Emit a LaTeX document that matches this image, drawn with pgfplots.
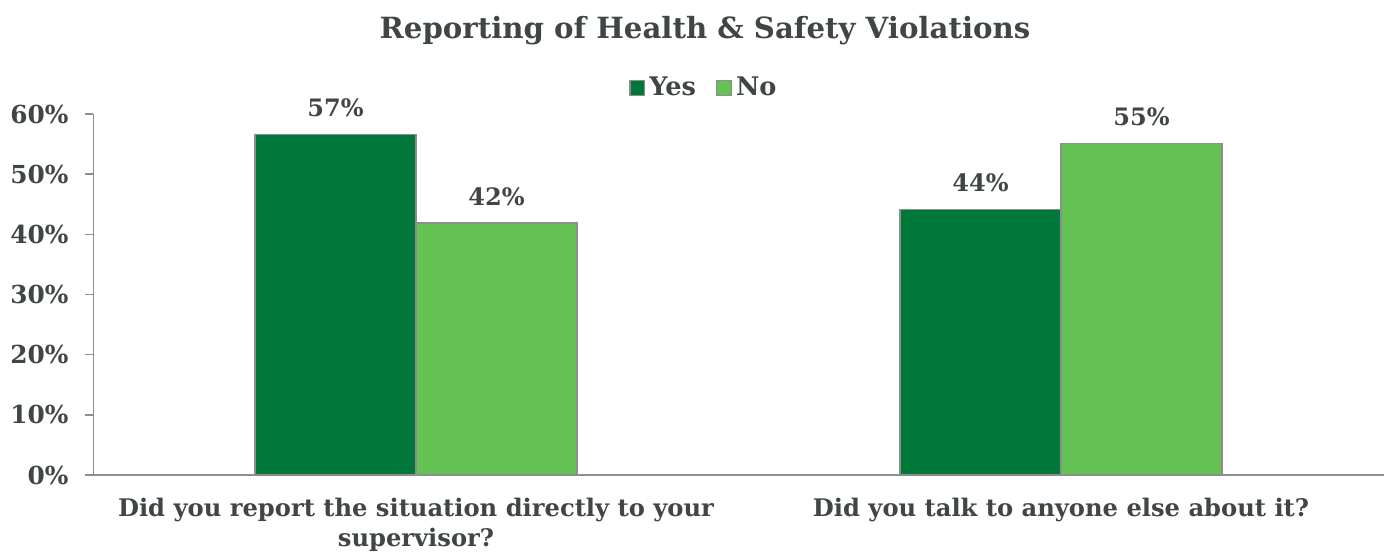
\documentclass[border=0pt]{standalone}
\usepackage{pgfplots}
\pgfplotsset{compat=1.18}
\usepackage{fontspec}
\setmainfont{DejaVu Serif}
\definecolor{yesg}{HTML}{00783A}
\definecolor{nog}{HTML}{63C253}
\definecolor{txt}{HTML}{404545}
\definecolor{axg}{HTML}{8E8E8E}
\begin{document}
\begin{tikzpicture}
\begin{axis}[
  scale only axis, width=645pt, height=180.5pt,
  xmin=-0.5, xmax=1.5, ymin=0, ymax=60,
  clip=false,
  ybar=0pt, bar width=80.5pt,
  axis x line=bottom, axis y line=left,
  axis line style={-, axg, line width=0.8pt},
  xtick={0,1},
  xticklabels={{Did you report the situation directly to your\\supervisor?},{Did you talk to anyone else about it?}},
  x tick style={draw=none},
  xticklabel style={align=center, font=\fontsize{12.1}{15}\selectfont\bfseries, text=txt, yshift=-4pt},
  ytick={0,10,20,30,40,50,60},
  yticklabel={\pgfmathprintnumber{\tick}\%},
  y tick style={axg, line width=0.8pt},
  tick align=outside, major tick length=4pt,
  yticklabel style={font=\fontsize{12.4}{14}\selectfont\bfseries, text=txt, xshift=-5pt},
  /pgf/number format/assume math mode=true,
  nodes near coords={\pgfmathprintnumber[fixed,precision=0]{\pgfplotspointmeta}\%},
  every node near coord/.append style={font=\fontsize{12}{14}\selectfont\bfseries, text=txt, yshift=5pt, /pgf/number format/assume math mode=true},
  legend style={draw=none, at={(0.474,1.072)}, anchor=center, font=\fontsize{12.8}{14}\selectfont\bfseries, text=txt, legend columns=2, /tikz/every even column/.append style={column sep=8pt}},
  legend image code/.code={\draw[#1, draw=axg, line width=0.6pt] (0pt,-3.7pt) rectangle (7.4pt,3.7pt);},
]
\addplot[fill=yesg, draw=axg, line width=0.8pt, bar shift=-40.25pt] coordinates {(0,56.6) (1,44.1)};
\addlegendentry{Yes}
\addplot[fill=nog, draw=axg, line width=0.8pt, bar shift=40.25pt] coordinates {(0,41.9) (1,55.1)};
\addlegendentry{No}
\node[font=\fontsize{14.6}{17}\selectfont\bfseries, text=txt] at (rel axis cs:0.474,1.232) {Reporting of Health \& Safety Violations};
\coordinate (bl) at (rel axis cs:0,0);
\end{axis}
\pgfresetboundingbox
\path[use as bounding box] ([shift={(-46.75pt,-39pt)}]bl) rectangle ([shift={(646.25pt,237.5pt)}]bl);
\end{tikzpicture}
\end{document}
